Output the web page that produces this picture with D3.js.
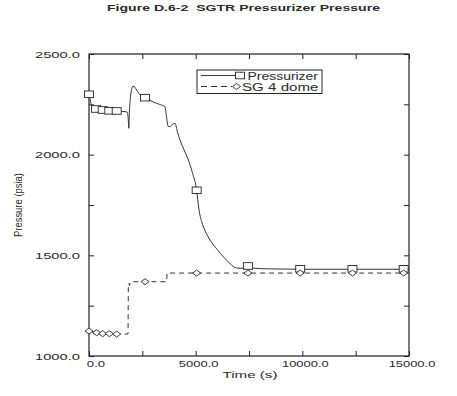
<!DOCTYPE html>
<html><head><meta charset="utf-8">
<script src="https://cdn.jsdelivr.net/npm/d3@7"></script>
<style>html,body{margin:0;padding:0;background:#fff}svg{display:block}text{font-family:"Liberation Sans",Arial,sans-serif;fill:#2a2a2a;white-space:pre}</style>
</head><body><svg id="c" width="457" height="396"></svg>
<script>
// ---- data ----
const title = "Figure D.6-2  SGTR Pressurizer Pressure";
const xLabel = "Time (s)";
const yLabel = "Pressure (psia)";
const seriesNames = ["Pressurizer", "SG 4 dome"];
const xTicks = [0, 2500, 5000, 7500, 10000, 12500, 15000];
const xTickLabels = ["0.0", "", "5000.0", "", "10000.0", "", "15000.0"];
const yTicks = [1000, 1250, 1500, 1750, 2000, 2250, 2500];
const yTickLabels = ["1000.0", "", "1500.0", "", "2000.0", "", "2500.0"];
const przTime = [0,190,328,642,952,1298,1790,1830,1870,1890,1950,2000,2060,2150,2250,2450,2625,3000,3300,3563,3630,3717,3797,3900,4031,4150,4266,4450,4656,4850,5047,5150,5281,5450,5672,6000,6297,6600,6922,7200,7450,8000,9000,10000,12500,15000];
const przP    = [2300,2230,2227,2222,2218,2217,2212,2190,2131,2200,2290,2325,2340,2335,2318,2292,2283,2262,2250,2238,2190,2140,2139,2150,2156,2110,2073,2025,1974,1910,1823,1730,1667,1620,1576,1530,1493,1460,1437,1436,1438,1434,1432,1431,1431,1431];
const przMarkT = [0,328,642,952,1298,2625,5047,7450,9900,12350,14750];
const przMarkP = [2300,2227,2222,2218,2217,2283,1823,1447,1433,1433,1433];
const sgTime = [0,361,642,953,1297,1797,1830,1844,1870,1900,1940,2000,2625,3641,3660,5047,15000];
const sgP    = [1124,1116,1111,1111,1109,1109,1110,1353,1362,1350,1365,1369,1369,1369,1412,1412,1412];
const sgMarkT = [0,361,642,953,1297,2625,5047,7450,9900,12350,14750];
const sgMarkP = [1124,1116,1111,1111,1109,1369,1412,1412,1412,1412,1412];

// ---- chart ----
const svg = d3.select("#c");
const x = d3.scaleLinear().domain([0, 15000]).range([89, 409]);
const y = d3.scaleLinear().domain([1000, 2500]).range([356, 54]);
const ink = "#222";

function fit(sel, w){ sel.attr("textLength", w).attr("lengthAdjust", "spacingAndGlyphs"); return sel; }

// title
fit(svg.append("text").attr("x", 243.5).attr("y", 11).attr("text-anchor", "middle")
  .attr("xml:space", "preserve")
  .attr("font-size", 9.5).attr("font-weight", "bold").text(title), 273);

// axes
const tickLen = 5;
svg.append("g").attr("transform", `translate(0,${y(1000)})`)
  .call(d3.axisBottom(x).tickValues(xTicks).tickSize(-tickLen).tickFormat(""))
  .call(g => g.select(".domain").remove());
svg.append("g").attr("transform", `translate(0,${y(2500)})`)
  .call(d3.axisTop(x).tickValues(xTicks).tickSize(-tickLen).tickFormat(""))
  .call(g => g.select(".domain").remove());
svg.append("g").attr("transform", `translate(${x(0)},0)`)
  .call(d3.axisLeft(y).tickValues(yTicks).tickSize(-tickLen).tickFormat(""))
  .call(g => g.select(".domain").remove());
svg.append("g").attr("transform", `translate(${x(15000)},0)`)
  .call(d3.axisRight(y).tickValues(yTicks).tickSize(-tickLen).tickFormat(""))
  .call(g => g.select(".domain").remove());
svg.selectAll(".tick line").attr("stroke", ink).attr("stroke-width", 1);

svg.append("rect").attr("x", x(0)).attr("y", y(2500))
  .attr("width", x(15000) - x(0)).attr("height", y(1000) - y(2500))
  .attr("fill", "none").attr("stroke", ink).attr("stroke-width", 1.2);

// tick labels
xTicks.forEach((v, i) => {
  const t = xTickLabels[i]; if (!t) return;
  fit(svg.append("text").attr("x", x(v) + (i === 0 ? 7 : 3)).attr("y", 367)
    .attr("text-anchor", "middle").attr("font-size", 8.5).text(t), t.length * 7.1 - 3);
});
yTicks.forEach((v, i) => {
  const t = yTickLabels[i]; if (!t) return;
  fit(svg.append("text").attr("x", 80).attr("y", y(v) + 3.5)
    .attr("text-anchor", "end").attr("font-size", 8.5).text(t), 45);
});

// axis titles
fit(svg.append("text").attr("x", 250).attr("y", 378).attr("text-anchor", "middle")
  .attr("font-size", 9.5).text(xLabel), 55);
fit(svg.append("text").attr("transform", "translate(22,205) rotate(-90)")
  .attr("text-anchor", "middle").attr("font-size", 10).style("fill", "#2a2a2a").text(yLabel), 64);

// lines
const line = d3.line().x(d => x(d[0])).y(d => y(d[1])).curve(d3.curveMonotoneX);
const przData = przTime.map((t, i) => [t, przP[i]]);
const sgData = sgTime.map((t, i) => [t, sgP[i]]);
svg.append("path").datum(przData).attr("d", line).attr("fill", "none")
  .attr("stroke", "#333").attr("stroke-width", 1);
svg.append("path").datum(sgData).attr("d", d3.line().x(d => x(d[0])).y(d => y(d[1])))
  .attr("fill", "none").attr("stroke", "#333").attr("stroke-width", 1).attr("stroke-dasharray", "5,4");

// markers
function square(g, cx, cy){
  g.append("rect").attr("x", cx - 4.5).attr("y", cy - 3.3).attr("width", 9).attr("height", 6.6)
   .attr("fill", "#fff").attr("stroke", ink).attr("stroke-width", 0.9);
}
function diamond(g, cx, cy){
  g.append("path").attr("d", `M${cx-4},${cy}L${cx},${cy-3}L${cx+4},${cy}L${cx},${cy+3}Z`)
   .attr("fill", "#fff").attr("stroke", ink).attr("stroke-width", 0.9);
}
const mk = svg.append("g");
przMarkT.forEach((t, i) => square(mk, x(t), y(przMarkP[i])));
sgMarkT.forEach((t, i) => diamond(mk, x(t), y(sgMarkP[i])));

// legend
const lg = svg.append("g");
lg.append("rect").attr("x", 197).attr("y", 70).attr("width", 125).attr("height", 23.5)
  .attr("fill", "#fff").attr("stroke", ink).attr("stroke-width", 1);
lg.append("line").attr("x1", 201).attr("x2", 236).attr("y1", 75.5).attr("y2", 75.5)
  .attr("stroke", "#333").attr("stroke-width", 1);
square(lg, 240, 75.5);
fit(lg.append("text").attr("x", 247.5).attr("y", 79.5).attr("font-size", 10).text(seriesNames[0]), 70.5);
lg.append("line").attr("x1", 201).attr("x2", 232).attr("y1", 86.5).attr("y2", 86.5)
  .attr("stroke", "#333").attr("stroke-width", 1).attr("stroke-dasharray", "6,4");
diamond(lg, 236.5, 86.5);
fit(lg.append("text").attr("x", 242).attr("y", 90.5).attr("font-size", 10).text(seriesNames[1]), 76.5);
</script></body></html>
